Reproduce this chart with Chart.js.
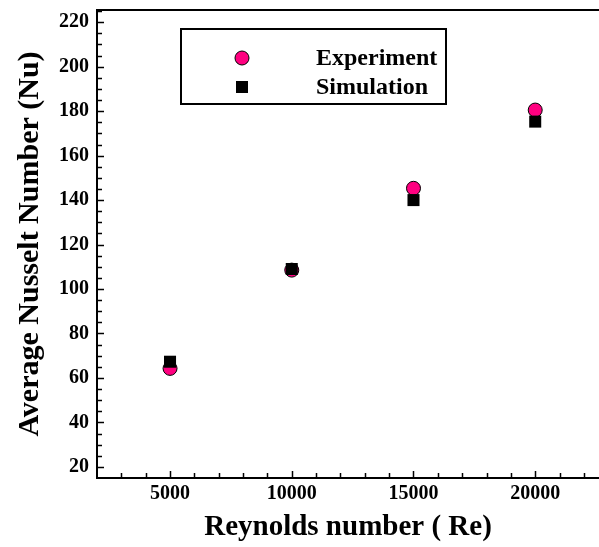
<!DOCTYPE html>
<html>
<head>
<meta charset="utf-8">
<title>Average Nusselt Number vs Reynolds number</title>
<script src="https://cdn.jsdelivr.net/npm/chart.js@4.4.1/dist/chart.umd.min.js"></script>
<style>
  html, body { margin: 0; padding: 0; background: #fff; }
  #wrap { position: relative; width: 599px; height: 547px; }
</style>
</head>
<body>
<div id="wrap"><canvas id="nuChart"></canvas></div>
<script>
// Reynolds numbers tested
const reynolds = [5000, 10000, 15000, 20000];
// average Nusselt number, measured and computed
const nuExperiment = [64.3, 108.5, 145.3, 180.5];
const nuSimulation = [67.3, 109, 140, 175.3];
const seriesNames = ['Experiment', 'Simulation'];
const axisTitles = ['Reynolds number ( Re)', 'Average Nusselt Number (Nu)'];
// tick positions: minor every 1000 / 5, labelled every 5000 / 20
const xTickValues = [];
for (let v = 2000; v <= 22000; v += 1000) xTickValues.push(v);
const yTickValues = [];
for (let v = 15; v <= 225; v += 5) yTickValues.push(v);

const SERIF = '"Liberation Serif", "Times New Roman", serif';
const PINK = 'rgb(255, 0, 128)';

function toPoints(xs, ys) {
  return xs.map((x, i) => ({ x: x, y: ys[i] }));
}

// axis lines, inward tick marks, axis titles and the boxed legend
const framePlugin = {
  id: 'frame',
  afterDraw(chart) {
    const ctx = chart.ctx;
    const area = chart.chartArea;
    const xs = chart.scales.x;
    const ys = chart.scales.y;
    ctx.save();
    ctx.strokeStyle = '#000';
    ctx.lineWidth = 2;
    ctx.beginPath();
    ctx.moveTo(area.right, area.top);
    ctx.lineTo(area.left, area.top);
    ctx.lineTo(area.left, area.bottom);
    ctx.lineTo(area.right, area.bottom);
    ctx.stroke();

    ctx.lineWidth = 1.5;
    ctx.beginPath();
    xs.ticks.forEach(t => {
      if (t.value <= xs.min) return;
      const px = Math.round(xs.getPixelForValue(t.value)) + 0.5;
      const len = t.value % 5000 === 0 ? 7 : 5;
      ctx.moveTo(px, area.bottom);
      ctx.lineTo(px, area.bottom - len);
    });
    ys.ticks.forEach(t => {
      if (t.value <= ys.min) return;
      const py = Math.round(ys.getPixelForValue(t.value)) + 0.5;
      const len = t.value % 20 === 0 ? 7 : 5;
      ctx.moveTo(area.left, py);
      ctx.lineTo(area.left + len, py);
    });
    ctx.stroke();

    // axis titles
    ctx.fillStyle = '#000';
    ctx.font = 'bold 29px ' + SERIF;
    ctx.textAlign = 'center';
    ctx.textBaseline = 'alphabetic';
    ctx.fillText(axisTitles[0], (area.left + area.right) / 2, 535);
    ctx.save();
    ctx.translate(38, (area.top + area.bottom) / 2);
    ctx.rotate(-Math.PI / 2);
    ctx.font = 'bold 30px ' + SERIF;
    ctx.fillText(axisTitles[1], 0, 0);
    ctx.restore();

    // legend box
    ctx.lineWidth = 2;
    ctx.strokeRect(181, 29, 265, 75);
    const rows = [58, 87];
    chart.data.datasets.forEach((ds, i) => {
      const y = rows[i];
      ctx.beginPath();
      if (ds.pointStyle === 'circle') {
        ctx.arc(242, y, 7, 0, Math.PI * 2);
        ctx.fillStyle = ds.backgroundColor;
        ctx.fill();
        ctx.lineWidth = 1;
        ctx.strokeStyle = '#000';
        ctx.stroke();
      } else {
        ctx.fillStyle = ds.backgroundColor;
        ctx.fillRect(236, y - 6, 12, 12);
      }
      ctx.fillStyle = '#000';
      ctx.font = 'bold 24px ' + SERIF;
      ctx.textAlign = 'left';
      ctx.textBaseline = 'middle';
      ctx.fillText(ds.label, 316, y + 1);
    });
    ctx.restore();
  }
};

const config = {
  type: 'scatter',
  data: {
    datasets: [
      {
        label: seriesNames[0],
        data: toPoints(reynolds, nuExperiment),
        pointStyle: 'circle',
        pointRadius: 7,
        pointHoverRadius: 7,
        backgroundColor: PINK,
        borderColor: '#000',
        borderWidth: 1,
        order: 2
      },
      {
        label: seriesNames[1],
        data: toPoints(reynolds, nuSimulation),
        pointStyle: 'rect',
        pointRadius: 8.5,
        pointHoverRadius: 8.5,
        backgroundColor: '#000',
        borderColor: '#000',
        borderWidth: 0,
        order: 1
      }
    ]
  },
  options: {
    responsive: false,
    animation: false,
    events: [],
    layout: { autoPadding: false, padding: { top: 10, right: 0, left: 0, bottom: 0 } },
    plugins: {
      legend: { display: false },
      tooltip: { enabled: false }
    },
    scales: {
      x: {
        type: 'linear',
        min: 2000,
        max: 22620,
        grid: { display: false, drawTicks: false },
        border: { display: false },
        afterBuildTicks(scale) {
          scale.ticks = xTickValues.map(v => ({ value: v }));
        },
        ticks: {
          autoSkip: false,
          maxRotation: 0,
          padding: 4,
          color: '#000',
          font: { family: SERIF, size: 20, weight: 'bold' },
          callback: v => (v % 5000 === 0 ? String(v) : '')
        },
        afterFit(scale) {
          scale.height = 69;
          scale.paddingLeft = 0;
          scale.paddingRight = 0;
        }
      },
      y: {
        type: 'linear',
        min: 15,
        max: 225.5,
        grid: { display: false, drawTicks: false },
        border: { display: false },
        afterBuildTicks(scale) {
          scale.ticks = yTickValues.map(v => ({ value: v }));
        },
        ticks: {
          autoSkip: false,
          padding: 8,
          color: '#000',
          font: { family: SERIF, size: 20, weight: 'bold' },
          callback: v => (v % 20 === 0 ? String(v) : '')
        },
        afterFit(scale) {
          scale.width = 97;
          scale.paddingTop = 0;
          scale.paddingBottom = 0;
        }
      }
    }
  },
  plugins: [framePlugin]
};

const canvas = document.getElementById('nuChart');
canvas.width = 599;
canvas.height = 547;
const nuChart = new Chart(canvas, config);
</script>
</body>
</html>
